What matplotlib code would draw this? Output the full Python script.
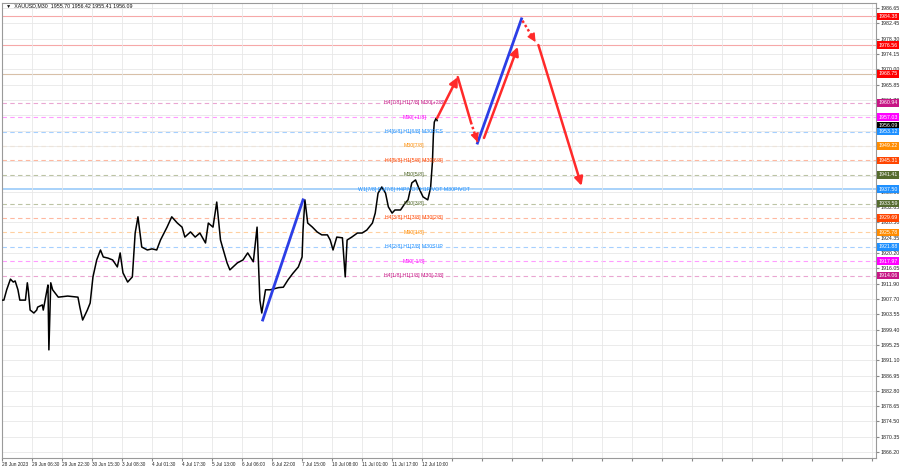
import matplotlib
matplotlib.use('Agg')
import matplotlib.pyplot as plt
import matplotlib.transforms as mtransforms

plt.rcParams['font.family'] = ['Liberation Sans', 'DejaVu Sans']

# price series (bar index, close)
bars = [0, 2, 5, 9, 12, 14, 17, 19, 25, 27, 28, 30, 34, 37, 38, 43, 44, 48, 49, 50, 52, 54,
        60, 70, 81, 83, 86, 91, 94, 97, 101, 105, 108, 113, 118, 123, 126, 129, 134, 139,
        142, 145, 149, 155, 160, 165, 169, 176, 181, 187, 192, 195, 201, 206, 211, 217,
        220, 225, 229, 233, 236, 240, 243, 251, 257, 262, 268, 272, 275, 277, 281, 286,
        295, 300, 305, 310, 316, 320, 321, 323, 326, 331, 336, 341, 347, 350, 353, 357,
        363, 366, 368, 373, 379, 384, 389, 395, 398, 401, 405, 409, 412, 416, 419, 425,
        430, 433, 437, 441, 444, 449, 454, 457, 459, 460, 461, 463, 464]
closes = [1907.4, 1907.4, 1910.2, 1913.1, 1912.3, 1912.6, 1910.2, 1907.4, 1907.4, 1912.1,
          1910.2, 1904.7, 1903.9, 1904.7, 1905.5, 1906.1, 1904.7, 1910.2, 1911.5, 1893.9,
          1912.1, 1910.2, 1908.2, 1908.5, 1908.2, 1905.5, 1902.0, 1904.7, 1906.6, 1913.7,
          1918.3, 1921.0, 1919.1, 1918.8, 1918.3, 1916.4, 1920.2, 1914.8, 1912.3, 1913.7,
          1925.6, 1930.0, 1921.8, 1921.0, 1921.3, 1921.0, 1923.7, 1927.2, 1930.0, 1928.3,
          1927.2, 1924.5, 1925.9, 1924.5, 1925.6, 1922.9, 1928.3, 1927.2, 1934.0, 1923.7,
          1921.0, 1917.5, 1915.6, 1917.5, 1918.3, 1920.2, 1917.8, 1927.2, 1907.4, 1903.9,
          1910.2, 1910.2, 1910.8, 1910.9, 1912.9, 1914.6, 1916.4, 1919.1, 1926.4, 1934.6,
          1928.3, 1927.2, 1925.9, 1925.1, 1925.1, 1923.7, 1921.0, 1924.5, 1924.3, 1913.7,
          1923.7, 1924.5, 1925.6, 1925.6, 1926.4, 1928.3, 1931.0, 1936.4, 1938.1, 1936.4,
          1932.7, 1931.0, 1931.85, 1931.85, 1933.75, 1934.6, 1939.2, 1940.0, 1938.1, 1935.4,
          1934.6, 1937.8, 1944.9, 1952.2, 1955.7, 1956.8, 1956.1]

# Murrey-math style levels
level_prices = [1984.38, 1976.56, 1968.75, 1960.94, 1957.03, 1953.12, 1949.22, 1945.31,
                1941.41, 1937.50, 1933.59, 1929.69, 1925.78, 1921.88, 1917.97, 1914.06]
level_names = ['', '', '', 'H4[7/8] H1[7/8] M30[+2/8]', 'M30[+1/8]', 'H4[6/8] H1[6/8] M30RES',
               'M30[7/8]', 'H4[5/8] H1[5/8] M30[6/8]', 'M30[5/8]',
               'W1[7/8] D1[7/8] H4PIVOT H1PIVOT M30PIVOT', 'M30[3/8]',
               'H4[3/8] H1[3/8] M30[2/8]', 'M30[1/8]', 'H4[2/8] H1[2/8] M30SUP', 'M30[-1/8]',
               'H4[1/8] H1[1/8] M30[-2/8]']
level_colors = ['#ff0000', '#ff0000', '#ff0000', '#c71585', '#ff00ff', '#1e90ff', '#ff8c00',
                '#ff4500', '#556b2f', '#1e90ff', '#556b2f', '#ff4500', '#ff8c00', '#1e90ff',
                '#ff00ff', '#c71585']
line_colors = ['#f6a8a8', '#f6a8a8', '#d8c0a8', '#eaa6d2', '#ff9cff', '#a6d0ff', '#ffd0a0',
               '#ffb8a0', '#bcc4a4', '#a8d2fa', '#bcc4a4', '#ffb8a0', '#ffd0a0', '#a6d0ff',
               '#ff9cff', '#eaa6d2']
line_styles = ['-', '-', '-', '--', '--', '--', '--', '--', '--', '-', '--', '--', '--', '--',
               '--', '--']

# forecast drawings (bar index, price)
blue_lines = [((278, 1902.0), (321, 1934.6)), ((507, 1950.0), (554, 1983.7))]
red_solid = [((464, 1956.8), (486, 1967.9)), ((486, 1967.9), (500, 1955.7)),
             ((514, 1951.4), (550, 1976.1)), ((572, 1976.6), (618, 1938.4))]
red_dotted = [((500, 1955.7), (507, 1950.3)), ((555, 1983.2), (569, 1977.4))]
red_heads = [True, False, True, True]

x_labels = ['28 Jun 2023', '29 Jun 06:30', '29 Jun 22:30', '30 Jun 15:30', '3 Jul 08:30',
            '4 Jul 01:30', '4 Jul 17:30', '5 Jul 13:00', '6 Jul 06:00', '6 Jul 22:00',
            '7 Jul 15:00', '10 Jul 08:00', '11 Jul 01:00', '11 Jul 17:00', '12 Jul 10:00']
y_ticks = [1866.20, 1870.35, 1874.50, 1878.65, 1882.80, 1886.95, 1891.10, 1895.25, 1899.40,
           1903.55, 1907.70, 1911.90, 1916.05, 1920.20, 1924.35, 1928.50, 1932.65, 1936.80,
           1940.95, 1945.10, 1949.25, 1953.40, 1957.55, 1961.70, 1965.85, 1970.00, 1974.15,
           1978.30, 1982.45, 1986.65]
last_price = 1956.09

fig = plt.figure(figsize=(9, 4.68), dpi=100)
ax = fig.add_axes([2 / 900, 10 / 468, 874 / 900, 455 / 468])
ax.set_xlim(0, 932)
ax.set_ylim(1864.57, 1988.0)

# grid
xt = list(range(0, 933, 32))
ax.set_xticks(xt)
ax.set_xticklabels(x_labels + [''] * (len(xt) - len(x_labels)), ha='left', fontsize=3.4)
ax.set_yticks(y_ticks)
ax.set_yticklabels(['%.2f' % v for v in y_ticks], fontsize=3.8)
ax.yaxis.tick_right()
ax.tick_params(axis='both', length=2, color='#888888', pad=1.5, labelcolor='#222222')
ax.tick_params(axis='x', pad=1)
ax.grid(color='#e8e8e8', linewidth=0.6)
for s in ax.spines.values():
    s.set_color('#9a9a9a')
    s.set_linewidth(0.8)

# levels
trans = mtransforms.blended_transform_factory(ax.transAxes, ax.transData)
for p, name, c, lc, ls in zip(level_prices, level_names, level_colors, line_colors, line_styles):
    lw = 1.4 if p == 1937.50 else 0.8
    if ls == '--':
        ax.axhline(p, color=lc, linewidth=lw, linestyle=(0, (4, 3)), zorder=1)
    else:
        ax.axhline(p, color=lc, linewidth=lw, zorder=1)
    if name:
        ax.text(439.5, p, name, color=c, fontsize=3.8, ha='center', va='center', zorder=4)
    ax.text(1.003, p, '%.2f' % p, transform=trans, color='white', fontsize=3.8, ha='left',
            va='center', zorder=6, clip_on=False,
            bbox=dict(boxstyle='square,pad=0.25', fc=c, ec='none'))
ax.text(1.003, last_price - 1.3, '%.2f' % last_price, transform=trans, color='white',
        fontsize=3.8, ha='left', va='center', zorder=5, clip_on=False,
        bbox=dict(boxstyle='square,pad=0.25', fc='black', ec='none'))

# price line
ax.plot(bars, closes, color='black', linewidth=1.1, zorder=3)

# forecast
for (x0, y0), (x1, y1) in blue_lines:
    ax.plot([x0, x1], [y0, y1], color='#2c3ee6', linewidth=2, zorder=5)
for ((x0, y0), (x1, y1)), head in zip(red_solid, red_heads):
    ax.annotate('', xy=(x1, y1), xytext=(x0, y0),
                arrowprops=dict(arrowstyle='-|>,head_length=0.5,head_width=0.25' if head else '-',
                                color='#ff2a2a', lw=1.8, shrinkA=0, shrinkB=0), zorder=5)
for (x0, y0), (x1, y1) in red_dotted:
    ax.plot([x0, x1], [y0, y1], color='#ff2a2a', linewidth=1.8, linestyle=(0, (1, 1)), zorder=5)
    ax.annotate('', xy=(x1, y1), xytext=(x0 + (x1 - x0) * 0.7, y0 + (y1 - y0) * 0.7),
                arrowprops=dict(arrowstyle='-|>,head_length=0.5,head_width=0.25',
                                color='#ff2a2a', lw=1.0, shrinkA=0, shrinkB=0), zorder=5)

fig.text(6 / 900, 1 - 6 / 468, '\u25bc  XAUUSD,M30  1955.70 1956.42 1955.41 1956.09',
         fontsize=3.8, color='#111111', va='center', ha='left')

plt.savefig('out.png', dpi=100)
plt.close()
